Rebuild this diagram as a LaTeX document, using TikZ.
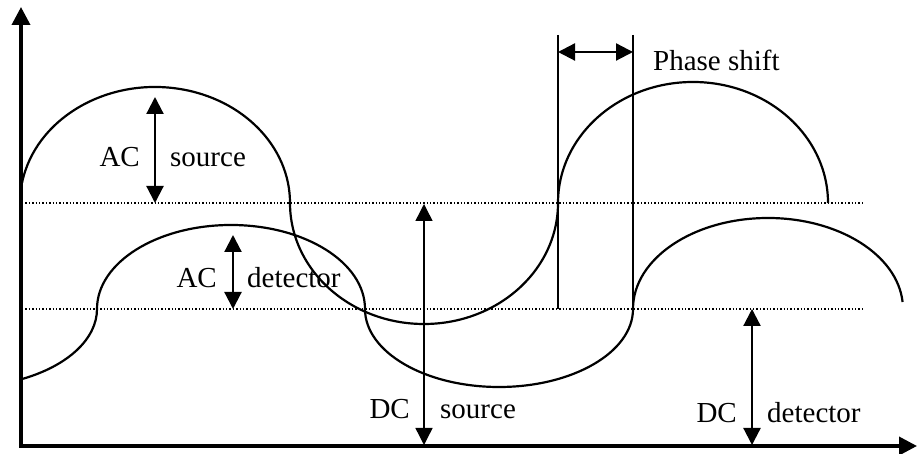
\documentclass[tikz,border=0pt]{standalone}
\usepackage{fontspec}
\setmainfont{Liberation Serif}
\usetikzlibrary{arrows.meta}
\begin{document}
\begin{tikzpicture}[x=1pt,y=1pt,
  curve/.style={line width=2.2pt},
  axisline/.style={line width=3.6pt,{Triangle[length=18pt,width=18pt]}-{Triangle[length=18pt,width=18pt]}},
  levelline/.style={line width=1.3pt,dash pattern=on 1.4pt off 2pt},
  dim/.style={line width=2.2pt,{Triangle[length=17pt,width=17pt]}-{Triangle[length=17pt,width=17pt]}},
  thindim/.style={line width=1.4pt,{Triangle[length=17pt,width=17pt]}-{Triangle[length=17pt,width=17pt]}},
  guide/.style={line width=1.5pt},
  lbl/.style={inner sep=0pt,font=\fontsize{29}{34}\selectfont}]
\useasboundingbox (0,0) rectangle (917,454);
% axes
\coordinate (ytop) at (21,447);
\coordinate (orig) at (21,8);
\coordinate (xend) at (917,8);
\draw[axisline] (ytop) -- (orig) -- (xend);
% level lines
\coordinate (srcL) at (22,251); \coordinate (srcR) at (863,251);
\coordinate (detL) at (22,145); \coordinate (detR) at (863,145);
\draw[levelline] (srcL) -- (srcR);
\draw[levelline] (detL) -- (detR);
% source curve
\draw[curve] (155,251) ++(170:135 and 116)
  arc[start angle=170,end angle=0,x radius=135,y radius=116]
  arc[start angle=180,end angle=360,x radius=134,y radius=121]
  arc[start angle=180,end angle=0,x radius=135,y radius=121];
% detector curve
\draw[curve] (-37,145) ++(296:134 and 78)
  arc[start angle=296,end angle=360,x radius=134,y radius=78]
  arc[start angle=180,end angle=0,x radius=134,y radius=84]
  arc[start angle=180,end angle=360,x radius=134,y radius=78]
  arc[start angle=180,end angle=4.4,x radius=135,y radius=91];
% phase shift
\coordinate (psA) at (558,419); \coordinate (psAb) at (558,145);
\coordinate (psB) at (633,419); \coordinate (psBb) at (633,145);
\draw[guide] (psA) -- (psAb);
\draw[guide] (psB) -- (psBb);
\coordinate (paL) at (558,402); \coordinate (paR) at (633,402);
\draw[dim] (paL) -- (paR);
\node[lbl,anchor=base west] (phase) at (653,383) {Phase shift};
% AC source
\coordinate (acsT) at (155,357); \coordinate (acsB) at (155,251);
\draw[dim] (acsT) -- (acsB);
\node[lbl,anchor=base east] (acs1) at (140,287) {AC};
\node[lbl,anchor=base west] (acs2) at (170,287) {source};
% AC detector
\coordinate (acdT) at (233,219); \coordinate (acdB) at (233,145);
\draw[dim] (acdT) -- (acdB);
\node[lbl,anchor=base east] (acd1) at (217,166) {AC};
\node[lbl,anchor=base west] (acd2) at (247,166) {detector};
% DC source
\coordinate (dcsT) at (424,250); \coordinate (dcsB) at (424,9);
\draw[thindim] (dcsT) -- (dcsB);
\node[lbl,anchor=base east] (dcs1) at (410,35) {DC};
\node[lbl,anchor=base west] (dcs2) at (440,35) {source};
% DC detector
\coordinate (dcdT) at (752,145); \coordinate (dcdB) at (752,9);
\draw[dim] (dcdT) -- (dcdB);
\node[lbl,anchor=base east] (dcd1) at (737,31) {DC};
\node[lbl,anchor=base west] (dcd2) at (767,31) {detector};
\end{tikzpicture}
\end{document}
